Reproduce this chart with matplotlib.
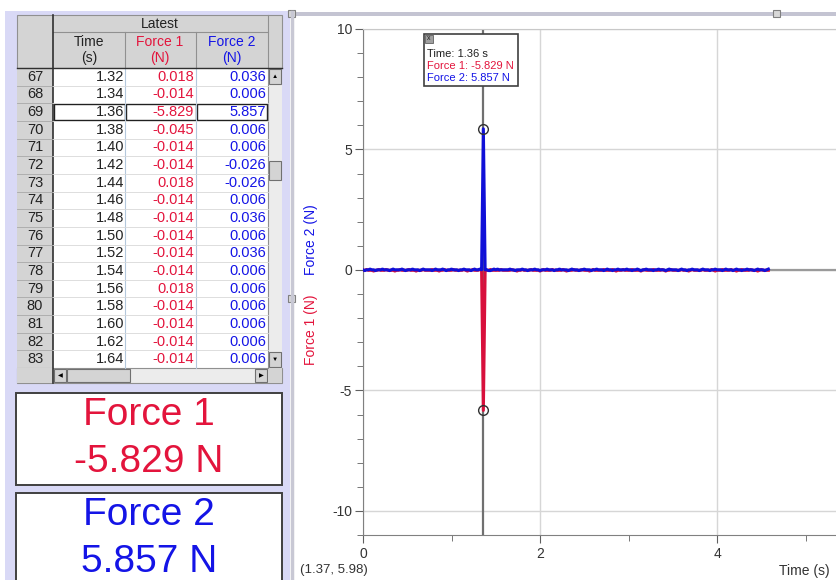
import numpy as np
import matplotlib
matplotlib.use("Agg")
import matplotlib.pyplot as plt
from matplotlib.patches import Rectangle
from matplotlib.ticker import MultipleLocator

plt.rcParams['font.family'] = ['Liberation Sans', 'DejaVu Sans']
plt.rcParams['axes.unicode_minus'] = False

# ---- data (50 Hz sampling, 230 samples) ----
dt = 0.02
force1 = [
    -0.014, -0.014, 0.018, -0.014, -0.014, -0.014, -0.045, -0.014, -0.014, 0.018,
    -0.014, -0.014, -0.014, 0.018, -0.014, -0.014, -0.014, -0.014, -0.045, -0.014,
    -0.014, 0.018, -0.014, -0.014, -0.014, -0.014, 0.018, -0.014, -0.014, -0.014,
    -0.045, -0.014, -0.014, -0.014, 0.018, -0.014, -0.014, -0.014, -0.014, 0.018,
    -0.014, -0.014, -0.014, -0.045, -0.014, -0.014, 0.018, -0.014, -0.014, -0.014,
    -0.014, 0.018, -0.014, -0.014, -0.014, -0.014, -0.014, 0.018, -0.014, -0.045,
    -0.014, -0.014, 0.018, -0.014, -0.014, -0.014, 0.018, -0.014, -5.829, -0.045,
    -0.014, -0.014, 0.018, -0.014, -0.014, -0.014, -0.014, -0.014, 0.018, -0.014,
    -0.014, -0.014, -0.014, -0.014, 0.018, -0.014, -0.014, -0.045, -0.014, -0.014,
    0.018, -0.014, -0.014, -0.014, -0.014, 0.018, -0.014, -0.014, -0.014, -0.014,
    -0.045, -0.014, 0.018, -0.014, -0.014, -0.014, -0.014, 0.018, -0.014, -0.014,
    -0.014, -0.014, -0.014, 0.018, -0.014, -0.045, -0.014, -0.014, -0.014, 0.018,
    -0.014, -0.014, -0.014, -0.014, 0.018, -0.014, -0.014, -0.014, -0.045, -0.014,
    0.018, -0.014, -0.014, -0.014, -0.014, -0.014, 0.018, -0.014, -0.014, -0.014,
    -0.014, 0.018, -0.014, -0.045, -0.014, -0.014, -0.014, 0.018, -0.014, -0.014,
    -0.014, -0.014, 0.018, -0.014, -0.014, -0.014, -0.014, -0.045, -0.014, 0.018,
    -0.014, -0.014, -0.014, -0.014, 0.018, -0.014, -0.014, -0.014, -0.014, 0.018,
    -0.014, -0.045, -0.014, -0.014, 0.018, -0.014, -0.014, -0.014, -0.014, -0.014,
    0.018, -0.014, -0.014, -0.014, -0.045, -0.014, 0.018, -0.014, -0.014, -0.014,
    -0.014, -0.014, 0.018, -0.014, -0.014, -0.014, -0.014, 0.018, -0.014, -0.045,
    -0.014, -0.014, -0.014, 0.018, -0.014, -0.014, -0.014, -0.014, 0.018, -0.014,
    -0.014, -0.045, -0.014, -0.014, 0.018, -0.014, -0.014, -0.014, -0.014, 0.018,
    -0.014, -0.014, -0.014, -0.045, -0.014, 0.018, -0.014, -0.014, -0.014, -0.014,
]
force2 = [
    0.006, -0.026, 0.006, 0.006, 0.036, 0.006, 0.006, -0.026, 0.006, 0.006,
    0.006, 0.036, 0.006, 0.006, 0.006, -0.026, 0.006, 0.036, 0.006, 0.006,
    0.006, 0.006, 0.036, 0.006, -0.026, 0.006, 0.006, 0.006, 0.036, 0.006,
    0.006, 0.006, -0.026, 0.006, 0.036, 0.006, 0.006, 0.006, 0.006, -0.026,
    0.006, 0.036, 0.006, 0.006, 0.006, 0.036, 0.006, -0.026, 0.006, 0.006,
    0.036, 0.006, 0.006, 0.006, -0.026, 0.006, 0.006, 0.036, 0.006, 0.006,
    0.006, -0.026, 0.006, 0.036, 0.006, 0.006, 0.036, 0.006, 5.857, 0.006,
    0.006, -0.026, -0.026, 0.006, 0.036, 0.006, 0.036, 0.006, 0.006, 0.006,
    0.006, 0.006, 0.006, 0.036, 0.006, 0.006, -0.026, 0.006, 0.006, 0.006,
    0.036, 0.006, 0.006, -0.026, 0.006, 0.006, 0.006, 0.036, 0.006, 0.006,
    -0.026, 0.006, 0.006, 0.006, 0.036, 0.006, 0.006, 0.006, -0.026, 0.006,
    0.006, 0.036, 0.006, 0.006, 0.006, 0.006, -0.026, 0.006, 0.036, 0.006,
    0.006, 0.006, -0.026, 0.006, 0.006, 0.036, 0.006, 0.006, 0.006, -0.026,
    0.006, 0.006, 0.036, 0.006, 0.006, 0.006, -0.026, 0.006, 0.036, 0.006,
    0.006, -0.026, 0.006, 0.006, 0.036, 0.006, 0.006, 0.006, 0.006, 0.036,
    0.006, 0.006, -0.026, 0.006, 0.006, 0.036, 0.006, -0.026, 0.006, 0.006,
    0.036, 0.006, 0.006, 0.006, -0.026, 0.006, 0.006, 0.036, 0.006, 0.006,
    0.006, -0.026, 0.006, 0.036, 0.006, 0.006, 0.006, 0.006, -0.026, 0.006,
    0.036, 0.006, 0.006, -0.026, 0.006, 0.006, 0.036, 0.006, 0.006, 0.006,
    -0.026, 0.006, 0.036, 0.006, 0.006, 0.006, -0.026, 0.006, 0.006, 0.036,
    0.006, 0.006, 0.006, -0.026, 0.006, 0.036, 0.006, 0.006, 0.006, -0.026,
    0.006, 0.036, 0.006, 0.006, -0.026, 0.006, 0.006, 0.036, 0.006, 0.006,
    0.006, -0.026, 0.006, 0.036, 0.006, 0.006, 0.006, -0.026, 0.006, 0.036,
]
time = np.round(np.arange(len(force1)) * dt, 2)

cursor = 68                 # examined sample (t = 1.36 s)
table_rows = range(66, 83)  # visible table rows (row numbers 67..83)
status_text = "(1.37, 5.98)"

RED = '#e3143c'
BLUE = '#1414e6'
LAV = '#d9d9f6'
BTN = '#d4d4d4'

fig = plt.figure(figsize=(8.36, 5.8), dpi=100)

# pixel-coordinate background layer
bg = fig.add_axes([0, 0, 1, 1], zorder=0)
bg.set_xlim(0, 836)
bg.set_ylim(580, 0)
bg.axis('off')

# left lavender panel
bg.add_patch(Rectangle((5, 11), 285, 580, color=LAV, lw=0))

# ---- data table ----
cols = [17, 53, 125, 196, 268, 282]
row_top, row_h = 68, 17.65
n_rows = len(table_rows)
tbl_bottom = row_top + n_rows * row_h

bg.add_patch(Rectangle((17, 15), 265, 53, facecolor=BTN, edgecolor='#909090', lw=0.8))
bg.add_patch(Rectangle((53, row_top), 215, tbl_bottom - row_top, facecolor='white', lw=0))
bg.add_patch(Rectangle((17, row_top), 36, tbl_bottom - row_top, facecolor=BTN, lw=0))
bg.add_patch(Rectangle((268, row_top), 14, tbl_bottom - row_top, facecolor='#ececec', lw=0))
bg.plot([53, 268], [32, 32], color='#909090', lw=0.8)
for x in cols[2:4]:
    bg.plot([x, x], [32, 68], color='#909090', lw=0.8)
    bg.plot([x, x], [row_top, tbl_bottom], color='#b4c8dc', lw=0.8)
bg.plot([268, 268], [15, tbl_bottom], color='#909090', lw=0.8)
bg.plot([53, 53], [15, tbl_bottom + 15], color='#303030', lw=1.2)
bg.plot([17, 282], [row_top, row_top], color='#303030', lw=1.0)

bg.text(160, 24, "Latest", ha='center', va='center', fontsize=10, color='#222222')
bg.text(89, 50, "Time\n(s)", ha='center', va='center', fontsize=10, color='#222222', linespacing=1.25)
bg.text(160, 50, "Force 1\n(N)", ha='center', va='center', fontsize=10, color=RED, linespacing=1.25)
bg.text(232, 50, "Force 2\n(N)", ha='center', va='center', fontsize=10, color=BLUE, linespacing=1.25)

for k, i in enumerate(table_rows):
    y0 = row_top + k * row_h
    yc = y0 + row_h / 2
    if k > 0:
        bg.plot([17, 53], [y0, y0], color='#a8a8a8', lw=0.6)
        bg.plot([53, 268], [y0, y0], color='#d8d8d8', lw=0.6)
    bg.text(35, yc, str(i + 1), ha='center', va='center', fontsize=10.5, color='#222222')
    bg.text(124, yc, f"{time[i]:.2f}", ha='right', va='center', fontsize=10.5, color='#222222')
    bg.text(194, yc, f"{force1[i]:.3f}", ha='right', va='center', fontsize=10.5, color=RED)
    bg.text(266, yc, f"{force2[i]:.3f}", ha='right', va='center', fontsize=10.5, color=BLUE)
    if i == cursor:
        for a, b in [(53.5, 124.5), (126, 195.5), (197, 266.5)]:
            bg.add_patch(Rectangle((a, y0 + 1), b - a, row_h - 2, fill=False,
                                   edgecolor='#202020', lw=1.0))

# vertical scrollbar
def button(x, y, w, h, mark=None):
    bg.add_patch(Rectangle((x, y), w, h, facecolor=BTN, edgecolor='#707070', lw=0.8))
    if mark:
        bg.text(x + w / 2, y + h / 2, mark, ha='center', va='center', fontsize=4.5, color='black')

button(269, row_top + 1, 12, 15, '▲')
button(269, 161, 12, 19)
button(269, tbl_bottom - 16, 12, 15, '▼')
# horizontal scrollbar
bg.add_patch(Rectangle((17, tbl_bottom), 265, 15, facecolor='#ececec', edgecolor='#909090', lw=0.8))
bg.add_patch(Rectangle((17, tbl_bottom), 36, 15, facecolor=BTN, lw=0))
button(54, tbl_bottom + 1, 12, 13, '◀')
button(67, tbl_bottom + 1, 63, 13)
button(255, tbl_bottom + 1, 12, 13, '▶')
bg.add_patch(Rectangle((268, tbl_bottom), 14, 15, facecolor=BTN, lw=0))

# meter readouts
for top, name, val, col in [(393, "Force 1", force1[cursor], RED),
                            (493, "Force 2", force2[cursor], BLUE)]:
    bg.add_patch(Rectangle((16, top), 266, 92, facecolor='white', edgecolor='#404040', lw=1.4))
    bg.text(149, top + 22, name, ha='center', va='center', fontsize=28, color=col)
    bg.text(149, top + 69, f"{val:.3f} N", ha='center', va='center', fontsize=28, color=col)

# graph panel frame and handles
bg.plot([291.5, 291.5], [12, 580], color='#c8c8d4', lw=2.5)
bg.add_patch(Rectangle((292, 12), 544, 4, color='#c4c4d2', lw=0))
for hx, hy in [(288, 10), (288, 295), (773, 10)]:
    bg.add_patch(Rectangle((hx, hy), 7, 7, facecolor='#d8d8d8', edgecolor='#808080', lw=0.8))

# axis titles and status text
bg.text(311, 240, "Force 2 (N)", rotation=90, ha='center', va='center', fontsize=10, color=BLUE)
bg.text(311, 330, "Force 1 (N)", rotation=90, ha='center', va='center', fontsize=10, color=RED)
bg.text(300, 570, status_text, ha='left', va='center', fontsize=9.5, color='#333333')
bg.text(830, 571, "Time (s)", ha='right', va='center', fontsize=10, color='#333333')

# ---- graph ----
L, R, T, B = 363, 836, 29, 535
ax = fig.add_axes([L / 836, (580 - B) / 580, (R - L) / 836, (B - T) / 580], zorder=2)
ax.set_facecolor('white')
ax.set_xlim(0, (R - L) / 88.5)
ax.set_ylim(-11, 10)
ax.xaxis.set_major_locator(MultipleLocator(2))
ax.xaxis.set_minor_locator(MultipleLocator(1))
ax.yaxis.set_major_locator(MultipleLocator(5))
ax.yaxis.set_minor_locator(MultipleLocator(1))
ax.grid(True, which='major', color='#d6d6d6', lw=1.0)
ax.set_axisbelow(True)
for s in ['left', 'bottom']:
    ax.spines[s].set_color('#808080')
ax.spines['top'].set_color('#c8c8c8')
ax.spines['right'].set_visible(False)
ax.tick_params(which='major', direction='out', length=6, color='#606060',
               labelsize=10, labelcolor='#333333')
ax.tick_params(which='minor', direction='out', length=4, color='#606060')
ax.tick_params(axis='x', which='major', pad=3)
ax.tick_params(axis='y', which='major', pad=2)

ax.axhline(0, color='#9a9a9a', lw=1.6, zorder=1)
ax.axvline(time[cursor], color='#707070', lw=1.6, zorder=1)
ax.plot(time, force1, color='#d8103c', lw=2.2, zorder=3, solid_joinstyle='round')
ax.plot(time, force2, color='#1010d8', lw=2.2, zorder=4, solid_joinstyle='round')
ax.plot([time[cursor]] * 2, [force1[cursor], force2[cursor]], 'o', ms=7,
        mfc='none', mec='#303030', mew=1.0, zorder=5)

# examine tooltip on top
top = fig.add_axes([0, 0, 1, 1], zorder=5)
top.set_xlim(0, 836)
top.set_ylim(580, 0)
top.axis('off')
top.patch.set_visible(False)
top.add_patch(Rectangle((424, 34), 94, 52, facecolor='white', edgecolor='#404040', lw=1.2))
top.add_patch(Rectangle((425, 35), 8, 8, facecolor='#a0a0a0', edgecolor='#606060', lw=0.6))
top.text(429, 39, "x", ha='center', va='center', fontsize=5, color='#202020')
top.text(427, 54, f"Time: {time[cursor]:.2f} s", ha='left', va='center', fontsize=8, color='#222222')
top.text(427, 66, f"Force 1: {force1[cursor]:.3f} N", ha='left', va='center', fontsize=8, color=RED)
top.text(427, 78, f"Force 2: {force2[cursor]:.3f} N", ha='left', va='center', fontsize=8, color=BLUE)

fig.savefig("out.png", dpi=100)
